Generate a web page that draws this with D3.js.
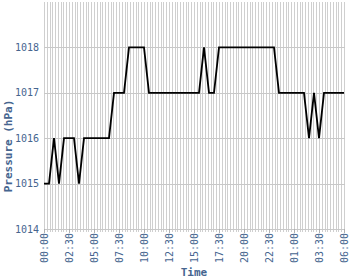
<!DOCTYPE html>
<html><head><meta charset="utf-8">
<script src="https://cdn.jsdelivr.net/npm/d3@7"></script>
<style>body{margin:0;background:#fff}svg{display:block}</style>
</head><body>
<svg id="c" width="350" height="280"></svg>
<script>
const times = ["00:00","00:30","01:00","01:30","02:00","02:30","03:00","03:30","04:00","04:30",
"05:00","05:30","06:00","06:30","07:00","07:30","08:00","08:30","09:00","09:30",
"10:00","10:30","11:00","11:30","12:00","12:30","13:00","13:30","14:00","14:30",
"15:00","15:30","16:00","16:30","17:00","17:30","18:00","18:30","19:00","19:30",
"20:00","20:30","21:00","21:30","22:00","22:30","23:00","23:30","00:00","00:30",
"01:00","01:30","02:00","02:30","03:00","03:30","04:00","04:30","05:00","05:30","06:00"];
const pressure = [1015,1015,1016,1015,1016,1016,1016,1015,1016,1016,
1016,1016,1016,1016,1017,1017,1017,1018,1018,1018,
1018,1017,1017,1017,1017,1017,1017,1017,1017,1017,
1017,1017,1018,1017,1017,1018,1018,1018,1018,1018,
1018,1018,1018,1018,1018,1018,1018,1017,1017,1017,
1017,1017,1017,1016,1017,1016,1017,1017,1017,1017,1017];
const xTickLabels = ["00:00","02:30","05:00","07:30","10:00","12:30","15:00","17:30","20:00","22:30","01:00","03:30","06:00"];
const yTicks = [1014,1015,1016,1017,1018];

// convert clock strings to running hours (wrap past midnight)
function toHours(arr){
  let day = 0, prev = -1;
  return arr.map(t => {
    const [h,m] = t.split(":").map(Number);
    let v = h + m/60;
    if (v + day*24 < prev) day++;
    v += day*24; prev = v; return v;
  });
}
const hrs = toHours(times);
const tickHrs = toHours(xTickLabels);

const L=44, R=344, T=2, B=229;
const x = d3.scaleLinear().domain([0,30]).range([L,R]);
const y = d3.scaleLinear().domain([1014,1019]).range([B,T]);
const svg = d3.select("#c");
const txtCol = "#46658f";
const font = "DejaVu Sans Mono, monospace";

// minor vertical grid (9 per label interval)
const minor = d3.range(0, 30.0001, 2.5/9);
svg.append("g").selectAll("line").data(minor).join("line")
  .attr("x1", d=>Math.round(x(d))+0.5).attr("x2", d=>Math.round(x(d))+0.5)
  .attr("y1", T).attr("y2", B+3)
  .attr("stroke", "#cfcfcf").attr("stroke-width", 1);

// horizontal grid
svg.append("g").selectAll("line").data(yTicks).join("line")
  .attr("x1", L).attr("x2", R+1)
  .attr("y1", d=>Math.round(y(d))+0.5).attr("y2", d=>Math.round(y(d))+0.5)
  .attr("stroke", "#c8c8c8").attr("stroke-width", 1);

// y labels
svg.append("g").selectAll("text").data(yTicks).join("text")
  .attr("x", 39).attr("y", d=>y(d)+3.5)
  .attr("text-anchor","end").attr("font-family",font).attr("font-size",10)
  .attr("fill",txtCol).text(d=>d);

// x tick marks and labels
svg.append("g").selectAll("line").data(tickHrs).join("line")
  .attr("x1", d=>Math.round(x(d))+0.5).attr("x2", d=>Math.round(x(d))+0.5)
  .attr("y1", B).attr("y2", B+4).attr("stroke","#b0b0b0");
svg.append("g").selectAll("text").data(xTickLabels).join("text")
  .attr("transform",(d,i)=>`translate(${x(tickHrs[i])+3.5},${B+4}) rotate(-90)`)
  .attr("text-anchor","end").attr("font-family",font).attr("font-size",10)
  .attr("fill",txtCol).text(d=>d);

// axis titles
svg.append("text").attr("x",194).attr("y",276).attr("text-anchor","middle")
  .attr("font-family",font).attr("font-size",11).attr("font-weight","bold")
  .attr("fill",txtCol).text("Time");
svg.append("text").attr("transform","translate(12,146) rotate(-90)").attr("text-anchor","middle")
  .attr("font-family",font).attr("font-size",11).attr("font-weight","bold")
  .attr("fill",txtCol).text("Pressure (hPa)");

// line
const data = hrs.map((h,i)=>[h,pressure[i]]);
svg.append("path").datum(data)
  .attr("d", d3.line().x(d=>x(d[0])).y(d=>y(d[1])))
  .attr("fill","none").attr("stroke","#000").attr("stroke-width",1.8);
</script>
</body></html>
